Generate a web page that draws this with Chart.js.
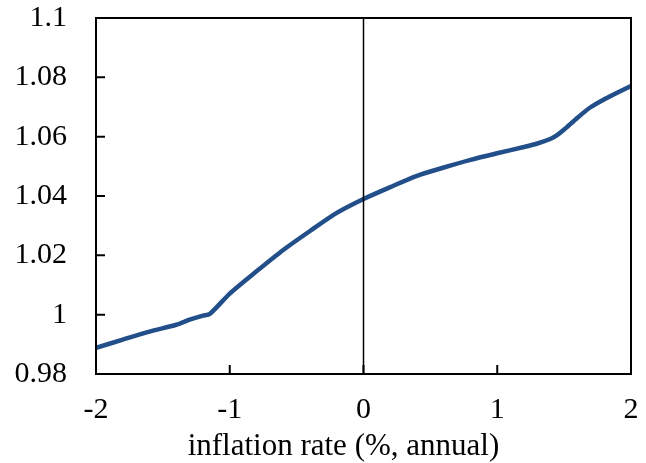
<!DOCTYPE html>
<html>
<head>
<meta charset="UTF-8">
<script src="https://cdn.jsdelivr.net/npm/chart.js@4.4.1/dist/chart.umd.min.js"></script>
<style>
  html, body { margin: 0; padding: 0; background: #fff; }
  #wrap { width: 646px; height: 463px; }
</style>
</head>
<body>
<div id="wrap"><canvas id="c" width="646" height="463"></canvas></div>
<script>
// inflation rate (%, annual) vs. ratio
var inflation = [-2, -1.8, -1.6, -1.4, -1.3, -1.2, -1.15, -1.0, -0.8, -0.6, -0.4, -0.2, 0,
                 0.2, 0.4, 0.6, 0.8, 1.0, 1.2, 1.3, 1.4, 1.45, 1.5, 1.6, 1.7, 1.8, 1.9, 2.0];
var ratio     = [0.9888, 0.9916, 0.9943, 0.9966, 0.9983, 0.9997, 1.0002, 1.0071, 1.0146, 1.0218, 1.0282, 1.0343, 1.0390,
                 1.0430, 1.0468, 1.0496, 1.0522, 1.0544, 1.0565, 1.0577, 1.0593, 1.0606, 1.0624, 1.0664, 1.0700, 1.0726, 1.0749, 1.0771];
var xTicks = [-2, -1, 0, 1, 2];
var yTicks = [0.98, 1, 1.02, 1.04, 1.06, 1.08, 1.1];
var xTitle = 'inflation rate (%, annual)';

var points = inflation.map(function (x, i) { return { x: x, y: ratio[i] }; });
var serif = '"Liberation Serif", "Times New Roman", serif';

// box, inward tick marks, the zero line and the axis title (sits a bit left of centre in the original)
var framePlugin = {
    id: 'frame',
    afterDatasetsDraw: function (chart) {
        var ctx = chart.ctx, a = chart.chartArea;
        var xs = chart.scales.x, ys = chart.scales.y;
        ctx.save();
        ctx.strokeStyle = '#000';
        ctx.lineWidth = 1.5;
        var x0 = xs.getPixelForValue(0);
        ctx.beginPath();
        ctx.moveTo(x0, a.top);
        ctx.lineTo(x0, a.bottom);
        ctx.stroke();
        ctx.lineWidth = 2;
        ctx.beginPath();
        yTicks.forEach(function (v) {
            var py = ys.getPixelForValue(v);
            ctx.moveTo(a.left, py);
            ctx.lineTo(a.left + 9, py);
        });
        xTicks.forEach(function (v) {
            var px = xs.getPixelForValue(v);
            ctx.moveTo(px, a.bottom);
            ctx.lineTo(px, a.bottom - 9);
        });
        ctx.stroke();
        ctx.strokeRect(a.left, a.top, a.right - a.left, a.bottom - a.top);

        ctx.fillStyle = '#000';
        ctx.font = '31px ' + serif;
        ctx.textAlign = 'center';
        ctx.textBaseline = 'alphabetic';
        ctx.fillText(xTitle, xs.getPixelForValue(-0.15), 455);
        ctx.restore();
    }
};

new Chart(document.getElementById('c'), {
    type: 'scatter',
    data: {
        datasets: [{
            data: points,
            showLine: true,
            borderColor: '#224f89',
            borderWidth: 4.5,
            pointRadius: 0,
            tension: 0.25
        }]
    },
    options: {
        responsive: false,
        animation: false,
        layout: { padding: { top: 18, right: 15, left: 0, bottom: 0 } },
        plugins: { legend: { display: false }, tooltip: { enabled: false } },
        scales: {
            x: {
                type: 'linear',
                min: -2, max: 2,
                afterBuildTicks: function (s) { s.ticks = xTicks.map(function (v) { return { value: v }; }); },
                afterFit: function (s) { s.height = 89; s.paddingLeft = 0; s.paddingRight = 0; },
                grid: { display: false, drawTicks: false },
                border: { display: false },
                ticks: {
                    padding: 18,
                    color: '#000',
                    font: { family: serif, size: 30 },
                    callback: function (v) { return String(v); }
                }
            },
            y: {
                type: 'linear',
                min: 0.98, max: 1.1,
                afterBuildTicks: function (s) { s.ticks = yTicks.map(function (v) { return { value: v }; }); },
                afterFit: function (s) { s.width = 96; s.paddingTop = 0; s.paddingBottom = 0; },
                grid: { display: false, drawTicks: false },
                border: { display: false },
                ticks: {
                    padding: 29,
                    color: '#000',
                    font: { family: serif, size: 30 },
                    callback: function (v) { return String(Math.round(v * 100) / 100); }
                }
            }
        }
    },
    plugins: [framePlugin]
});
</script>
</body>
</html>
